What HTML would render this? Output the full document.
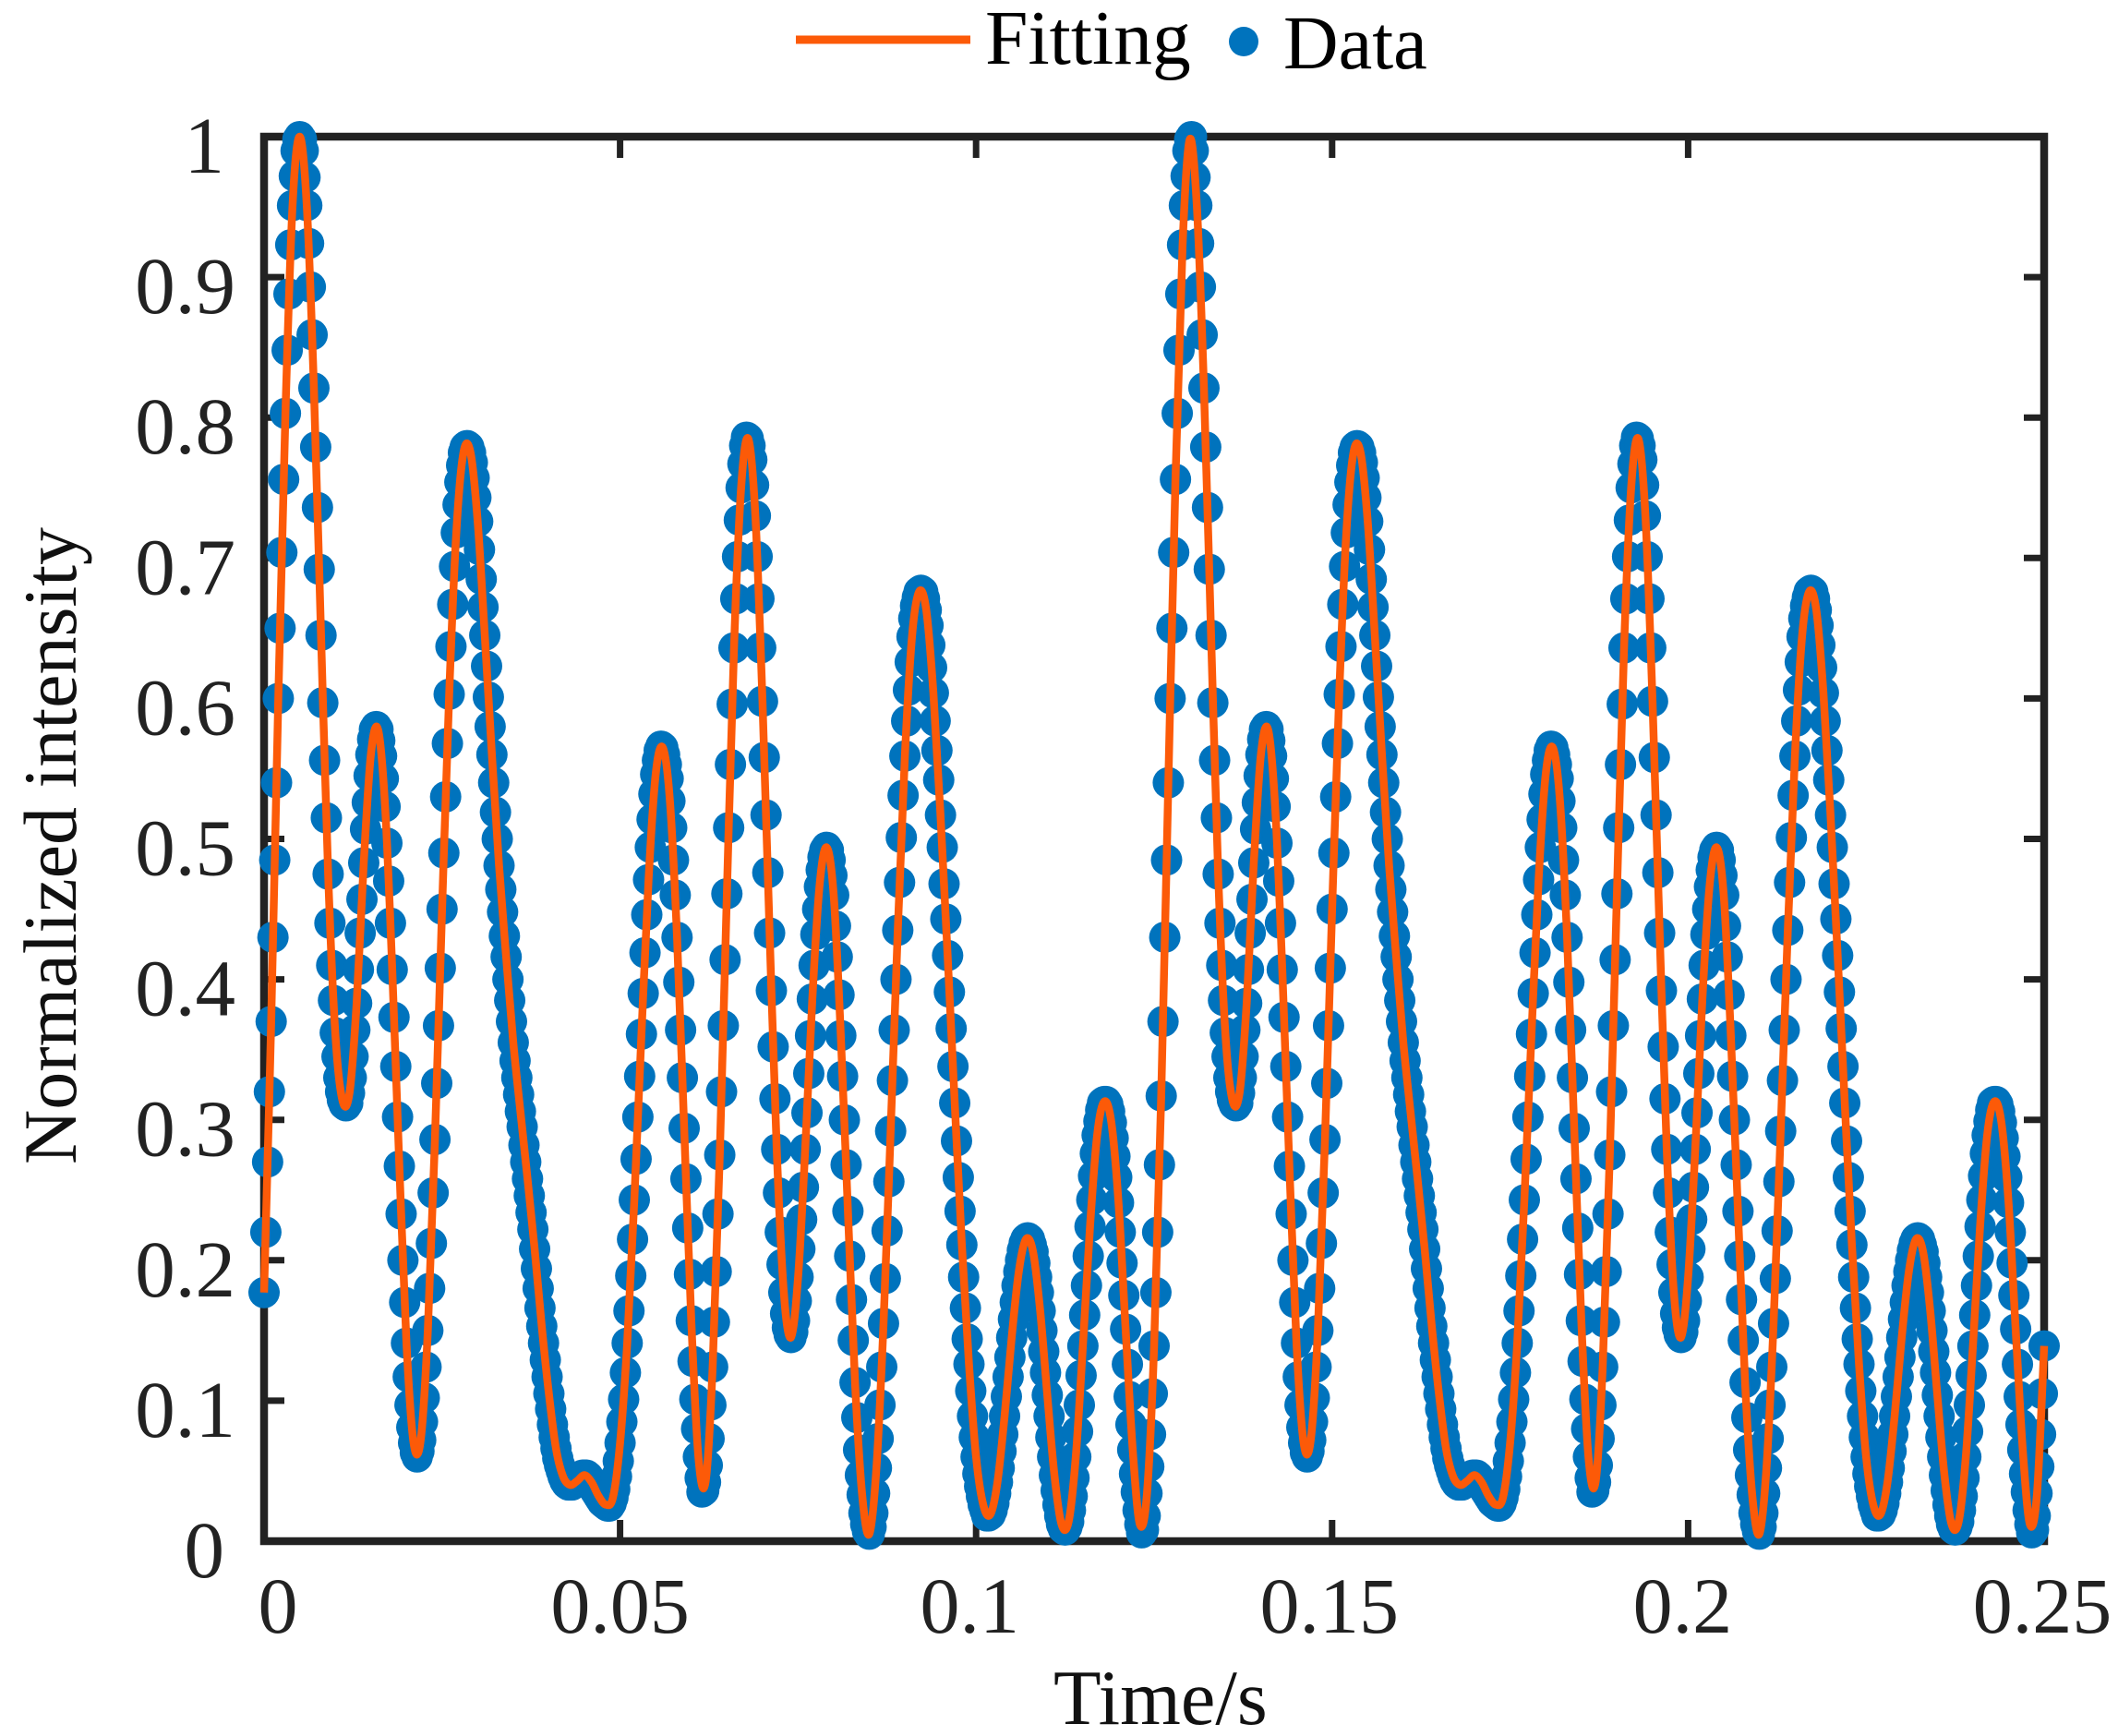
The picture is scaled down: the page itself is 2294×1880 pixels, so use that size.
<!DOCTYPE html>
<html lang="en">
<head>
<meta charset="utf-8">
<title>Normalized intensity versus time</title>
<style>
html,body{margin:0;padding:0;background:#fff;}
svg{display:block;}
text{font-family:"Liberation Serif",serif;}
</style>
</head>
<body>
<svg id="chart" xmlns="http://www.w3.org/2000/svg" width="2294" height="1880" viewBox="0 0 2294 1880">
<rect x="0" y="0" width="2294" height="1880" fill="#ffffff"/>
<g id="axes"></g>
<g id="dots"></g>
<g id="fit"></g>
<text transform="translate(82 1261) rotate(-90)" font-size="82" fill="#111">Normalized intensity</text>
<text x="1141" y="1867" font-size="84.5" fill="#111">Time/s</text>
<g>
<line x1="862" y1="43" x2="1051" y2="43" stroke="#FC5A08" stroke-width="9"/>
<text x="1067" y="69" font-size="83.5" fill="#000">Fitting</text>
<circle cx="1347" cy="45" r="16" fill="#0073BD"/>
<text x="1390" y="74" font-size="82.5" fill="#000">Data</text>
</g>
</svg>
<script>
const xTickValues = [0, 0.05, 0.1, 0.15, 0.2, 0.25];
const xTickLabels = ['0', '0.05', '0.1', '0.15', '0.2', '0.25'];
const yTickValues = [0, 0.1, 0.2, 0.3, 0.4, 0.5, 0.6, 0.7, 0.8, 0.9, 1];
const yTickLabels = ['0', '0.1', '0.2', '0.3', '0.4', '0.5', '0.6', '0.7', '0.8', '0.9', '1'];
const sampleStepSeconds = 0.00025;
const fitStepSeconds = 0.001;
const dataValues = [
.177,.22,.27,.32,.37,.43,.485,.54,.6,.65,.704,.756,.803,.848,.888,.923,.951,.972,.99,.998,1,
.998,.99,.971,.951,.924,.893,.859,.821,.779,.736,.692,.645,.597,.556,.515,.475,.44,.41,.385,.362,.345,.33,.32,.314,.311,.31,
.312,.319,.33,.345,.364,.383,.407,.433,.457,.483,.507,.526,.545,.56,.571,.578,.58,
.578,.57,.559,.543,.523,.497,.47,.44,.407,.373,.338,.302,.267,.233,.2,.17,.141,.117,.097,.081,.07,.063,.06,
.064,.072,.085,.102,.124,.15,.18,.212,.248,.286,.326,.367,.408,.45,.49,.53,.568,.603,.637,.667,.694,.718,.738,.754,.766,.775,.779,.78,
.779,.775,.768,.757,.743,.726,.706,.685,.665,.645,.623,.601,.58,.56,.54,.519,.5,.481,.464,.448,.431,.416,.4,.385,
.37,.355,.342,.33,.318,.306,.295,.282,.27,.258,.246,.234,.222,.208,.194,.18,.166,.153,.141,.129,.117,.105,.094,.083,.074,.066,.059,.054,.05,.046,.043,.041,.04,.04,.04,.041,.042,.043,.044,.046,.047,.047,.047,.046,.044,.042,.039,.036,.034,.032,.03,.028,.027,.026,.025,.025,.027,
.031,.037,.046,.057,.07,.085,.101,.12,.141,.164,.189,.215,.243,.272,.302,.331,.361,.39,.419,.446,.471,.494,.514,.532,.546,.556,.563,.566,
.565,.56,.553,.543,.527,.508,.485,.46,.43,.398,.364,.33,.294,.258,.223,.19,.157,.128,.101,.08,.06,.045,.035,
.036,.042,.054,.073,.097,.124,.156,.192,.233,.275,.32,.367,.414,.461,.508,.553,.596,.636,.671,.701,.727,.75,.767,.78,.786,
.785,.78,.77,.752,.73,.701,.671,.636,.598,.558,.517,.476,.433,.392,.352,.315,.279,.248,.22,.197,.177,.162,.152,.147,.145,
.149,.157,.171,.188,.208,.229,.252,.279,.305,.333,.36,.386,.41,.432,.45,.466,.478,.487,.492,.494,
.492,.485,.474,.46,.438,.416,.389,.36,.331,.3,.268,.235,.203,.172,.143,.113,.088,.065,.047,.033,.02,.012,.007,.005,
.01,.02,.034,.052,.073,.097,.124,.155,.187,.221,.256,.292,.328,.364,.4,.435,.469,.501,.531,.559,.584,.606,.626,.644,.657,.666,.672,.676,.677,
.676,.671,.663,.652,.638,.622,.604,.584,.563,.542,.517,.494,.468,.443,.417,.391,.365,.338,.312,.285,.259,.235,.211,.188,.166,.144,.126,.107,.089,.074,.06,.048,.039,.032,.026,.022,.018,.018,
.019,.022,.027,.034,.042,.052,.064,.076,.089,.103,.117,.131,.145,.158,.17,.182,.192,.2,.207,.212,.215,.216,
.215,.211,.206,.198,.188,.177,.164,.15,.135,.12,.104,.089,.074,.06,.047,.036,.026,.018,.012,.009,.008,
.01,.014,.022,.032,.045,.06,.078,.097,.118,.139,.161,.182,.203,.224,.243,.26,.276,.289,.299,.307,.312,.313,
.313,.311,.306,.298,.287,.274,.259,.241,.22,.198,.175,.151,.126,.103,.083,.065,.048,.035,.022,.012,.006,
.008,.018,.034,.053,.076,.105,.139,
.177,.22,.268,.317,.37,.43,.485,.54,.6,.65,.704,.756,.803,.848,.888,.923,.951,.972,.99,.998,1,
.99,.971,.951,.924,.893,.859,.821,.779,.736,.692,.645,.597,.556,.515,.475,.44,.41,.385,.362,.345,.33,.32,.314,.311,.31,
.312,.319,.33,.345,.364,.383,.407,.433,.457,.483,.507,.526,.545,.56,.571,.578,.58,
.578,.57,.559,.543,.523,.497,.47,.44,.407,.373,.338,.302,.267,.233,.2,.17,.141,.117,.097,.081,.07,.063,.06,
.064,.072,.085,.102,.124,.15,.18,.212,.248,.286,.326,.367,.408,.45,.49,.53,.568,.603,.637,.667,.694,.718,.738,.754,.766,.775,.779,.78,
.779,.775,.768,.757,.743,.726,.706,.685,.665,.645,.623,.601,.58,.56,.54,.519,.5,.481,.464,.448,.431,.416,.4,.385,
.37,.355,.342,.33,.318,.306,.295,.282,.27,.258,.246,.234,.222,.208,.194,.18,.166,.153,.141,.129,.117,.105,.094,.083,.074,.066,.059,.054,.05,.046,.043,.041,.04,.04,.04,.041,.042,.043,.044,.046,.047,.047,.047,.046,.044,.042,.039,.036,.034,.032,.03,.028,.027,.026,.025,.025,.027,
.031,.037,.046,.057,.07,.085,.101,.12,.141,.164,.189,.215,.243,.272,.302,.331,.361,.39,.419,.446,.471,.494,.514,.532,.546,.556,.563,.566,
.565,.56,.553,.543,.527,.508,.485,.46,.43,.398,.364,.33,.294,.258,.223,.19,.157,.128,.101,.08,.06,.045,.035,
.036,.042,.054,.073,.097,.124,.156,.192,.233,.275,.32,.367,.414,.461,.508,.553,.596,.636,.671,.701,.727,.75,.767,.78,.786,
.785,.78,.77,.752,.73,.701,.671,.636,.598,.558,.517,.476,.433,.392,.352,.315,.279,.248,.22,.197,.177,.162,.152,.147,.145,
.149,.157,.171,.188,.208,.229,.252,.279,.305,.333,.36,.386,.41,.432,.45,.466,.478,.487,.492,.494,
.492,.485,.474,.46,.438,.416,.389,.36,.331,.3,.268,.235,.203,.172,.143,.113,.088,.065,.047,.033,.02,.012,.007,.005,
.01,.02,.034,.052,.073,.097,.124,.155,.187,.221,.256,.292,.328,.364,.4,.435,.469,.501,.531,.559,.584,.606,.626,.644,.657,.666,.672,.676,.677,
.676,.671,.663,.652,.638,.622,.604,.584,.563,.542,.517,.494,.468,.443,.417,.391,.365,.338,.312,.285,.259,.235,.211,.188,.166,.144,.126,.107,.089,.074,.06,.048,.039,.032,.026,.022,.018,.018,
.019,.022,.027,.034,.042,.052,.064,.076,.089,.103,.117,.131,.145,.158,.17,.182,.192,.2,.207,.212,.215,.216,
.215,.211,.206,.198,.188,.177,.164,.15,.135,.12,.104,.089,.074,.06,.047,.036,.026,.018,.012,.009,.008,
.01,.014,.022,.032,.045,.06,.078,.097,.118,.139,.161,.182,.203,.224,.243,.26,.276,.289,.299,.307,.312,.313,
.313,.311,.306,.298,.287,.274,.259,.241,.22,.198,.175,.151,.126,.103,.083,.065,.048,.035,.022,.012,.006,
.008,.018,.034,.053,.076,.105,.139
];
const fitValues = [
.177,.37,.6,.803,.951,1,.951,.821,.645,.475,.362,.314,.319,.383,.483,.56,.578,.523,.407,.267,.141,.07,.072,.15,.286,.45,.603,.718,.775,.775,.726,.645,.56,.481,.416,.355,.306,.258,.208,.153,.105,.066,.046,.04,.043,.047,.042,.032,.026,.031,.07,.141,.243,.361,.471,.546,.565,.527,.43,.294,.157,.06,.042,.124,.275,.461,.636,.75,.785,.73,.598,.433,.279,.177,.145,.188,.279,.386,.466,.494,.46,.36,.235,.113,.033,.005,.052,.155,.292,.435,.559,.644,.676,.663,.604,.517,.417,.312,.211,.126,.06,.026,.019,.042,.089,.145,.192,.215,.206,.164,.104,.047,.012,.014,.06,.139,.224,.289,.313,.298,.241,.151,.065,.012,.034,.139,
.317,.54,.756,.923,.998,.951,.821,.645,.475,.362,.314,.319,.383,.483,.56,.578,.523,.407,.267,.141,.07,.072,.15,.286,.45,.603,.718,.775,.775,.726,.645,.56,.481,.416,.355,.306,.258,.208,.153,.105,.066,.046,.04,.043,.047,.042,.032,.026,.031,.07,.141,.243,.361,.471,.546,.565,.527,.43,.294,.157,.06,.042,.124,.275,.461,.636,.75,.785,.73,.598,.433,.279,.177,.145,.188,.279,.386,.466,.494,.46,.36,.235,.113,.033,.005,.052,.155,.292,.435,.559,.644,.676,.663,.604,.517,.417,.312,.211,.126,.06,.026,.019,.042,.089,.145,.192,.215,.206,.164,.104,.047,.012,.014,.06,.139,.224,.289,.313,.298,.241,.151,.065,.012,.034,.139
];

const SVG_NS = 'http://www.w3.org/2000/svg';
const plot = { left: 286, right: 2214, top: 148, bottom: 1669 };
const AXIS_COLOR = '#222222';

function xScale(t) { return plot.left + (t / 0.25) * (plot.right - plot.left); }
function yScale(v) { return plot.bottom - v * (plot.bottom - plot.top); }

function make(tag, attrs, parent) {
  const el = document.createElementNS(SVG_NS, tag);
  for (const k in attrs) el.setAttribute(k, attrs[k]);
  parent.appendChild(el);
  return el;
}

function xLabelNudge(label) {
  if (label === '0') return 15;
  if (label === '0.1') return -7;
  if (label === '0.15') return -3;
  if (label === '0.2') return -6;
  if (label === '0.25') return -2;
  return 0;
}

const axes = document.getElementById('axes');

const frame = make('rect', { x: plot.left, y: plot.top, width: plot.right - plot.left, height: plot.bottom - plot.top, fill: 'none', stroke: AXIS_COLOR, 'stroke-width': 8.5 }, axes);



xTickValues.forEach(function (value, i) {
  const x = xScale(value);
  if (value > 0 && value < 0.25) {
    const bottomTick = make('line', { x1: x, y1: plot.bottom, x2: x, y2: plot.bottom - 23, stroke: AXIS_COLOR, 'stroke-width': 7 }, axes);
    
    
    const topTick = make('line', { x1: x, y1: plot.top, x2: x, y2: plot.top + 23, stroke: AXIS_COLOR, 'stroke-width': 7 }, axes);
    
    
  }
  const label = make('text', { x: x + xLabelNudge(xTickLabels[i]), y: 1768, 'font-size': 86, 'text-anchor': 'middle', fill: AXIS_COLOR }, axes);
  label.textContent = xTickLabels[i];
  
  
});

yTickValues.forEach(function (value, i) {
  const y = yScale(value);
  if (value > 0 && value < 1) {
    const leftTick = make('line', { x1: plot.left, y1: y, x2: plot.left + 22, y2: y, stroke: AXIS_COLOR, 'stroke-width': 7 }, axes);
    
    
    const rightTick = make('line', { x1: plot.right, y1: y, x2: plot.right - 22, y2: y, stroke: AXIS_COLOR, 'stroke-width': 7 }, axes);
    
    
  }
  const text = yTickLabels[i];
  const label = make('text', { x: text.length === 1 ? 243 : 255, y: y + 39, 'font-size': 87, 'text-anchor': 'end', fill: AXIS_COLOR }, axes);
  label.textContent = text;
  
  
});

const dots = document.getElementById('dots');
dataValues.forEach(function (value, i) {
  const dot = make('circle', { cx: xScale(i * sampleStepSeconds).toFixed(2), cy: yScale(value).toFixed(2), r: 17, fill: '#0073BD' }, dots);
  
  
});

const fitPoints = fitValues.map(function (value, i) {
  return [xScale(i * fitStepSeconds), yScale(value)];
});
let fitPath = 'M' + fitPoints[0][0].toFixed(2) + ' ' + fitPoints[0][1].toFixed(2);
for (let i = 0; i < fitPoints.length - 1; i++) {
  const p0 = fitPoints[Math.max(i - 1, 0)];
  const p1 = fitPoints[i];
  const p2 = fitPoints[i + 1];
  const p3 = fitPoints[Math.min(i + 2, fitPoints.length - 1)];
  const c1x = p1[0] + (p2[0] - p0[0]) / 6;
  const c1y = p1[1] + (p2[1] - p0[1]) / 6;
  const c2x = p2[0] - (p3[0] - p1[0]) / 6;
  const c2y = p2[1] - (p3[1] - p1[1]) / 6;
  fitPath += 'C' + c1x.toFixed(2) + ' ' + c1y.toFixed(2) + ' ' + c2x.toFixed(2) + ' ' + c2y.toFixed(2) + ' ' + p2[0].toFixed(2) + ' ' + p2[1].toFixed(2);
}
const fitLine = make('path', { d: fitPath, fill: 'none', stroke: '#FC5A08', 'stroke-width': 8.5, 'stroke-linejoin': 'round' }, document.getElementById('fit'));


</script>
</body>
</html>
